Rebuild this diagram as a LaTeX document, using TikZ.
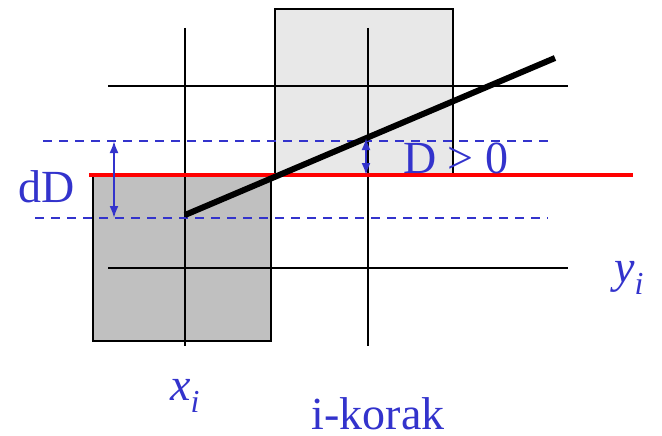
\documentclass[tikz,border=0pt]{standalone}
\usepackage{fontspec}
\setmainfont{Liberation Serif}
\usepackage{tikz}
\usetikzlibrary{arrows.meta}
\definecolor{lblue}{HTML}{3333CC}
\definecolor{darkcell}{HTML}{C0C0C0}
\definecolor{lightcell}{HTML}{E8E8E8}
\newcommand{\subvar}[2]{\textit{#1}\raisebox{-12pt}{\fontsize{32}{34}\selectfont\textit{#2}}}

\begin{document}
\begin{tikzpicture}[x=1pt,y=-1pt,
        gridline/.style={line width=2.4pt},
        dashline/.style={draw=lblue, line width=2pt, dash pattern=on 9pt off 7pt},
        dimarrow/.style={draw=lblue, line width=2pt, {Latex[length=12pt,width=9pt]}-{Latex[length=12pt,width=9pt]}},
        lbl/.style={text=lblue, font=\fontsize{46}{50}\selectfont, inner sep=0pt}]

        \useasboundingbox (0,0) rectangle (662,436);

        % ==========================================
        % Cells
        % ==========================================
        \draw[gridline, fill=lightcell] (275,9) rectangle (453,175);
        \draw[gridline, fill=darkcell] (93,175) rectangle (271,341);

        % ==========================================
        % Grid
        % ==========================================
        \foreach \x in {185,368} {
            \draw[gridline] (\x,28) -- (\x,346);
        }
        \foreach \y in {86,268} {
            \draw[gridline] (108,\y) -- (568,\y);
        }

        % ==========================================
        % Levels
        % ==========================================
        \coordinate (dtop) at (114,141);
        \coordinate (dbot) at (114,218);
        \coordinate (ptop) at (366,138);
        \coordinate (pbot) at (366,175);

        \draw[dashline] (43,141) -- (548,141);
        \draw[dashline] (35,218) -- (548,218);
        \draw[red, line width=3.2pt] (89,175) -- (633,175);

        % Line
        \coordinate (start) at (185,215);
        \coordinate (end) at (555,58);
        \draw[line width=6pt] (start) -- (end);

        % Distances
        \draw[dimarrow] (dtop) -- (dbot);
        \draw[dimarrow] (ptop) -- (pbot);

        % ==========================================
        % Labels
        % ==========================================
        \node[lbl] (dD) at (47,187) {dD};
        \node[lbl, anchor=base west] (Dpos) at (403,173) {D > 0};
        \node[lbl, anchor=base west] (xi) at (170,400) {\subvar{x}{i}};
        \node[lbl, anchor=base west] (yi) at (614,282) {\subvar{y}{i}};
        \node[lbl, anchor=base] (korak) at (378,429) {i-korak};

\end{tikzpicture}
\end{document}
